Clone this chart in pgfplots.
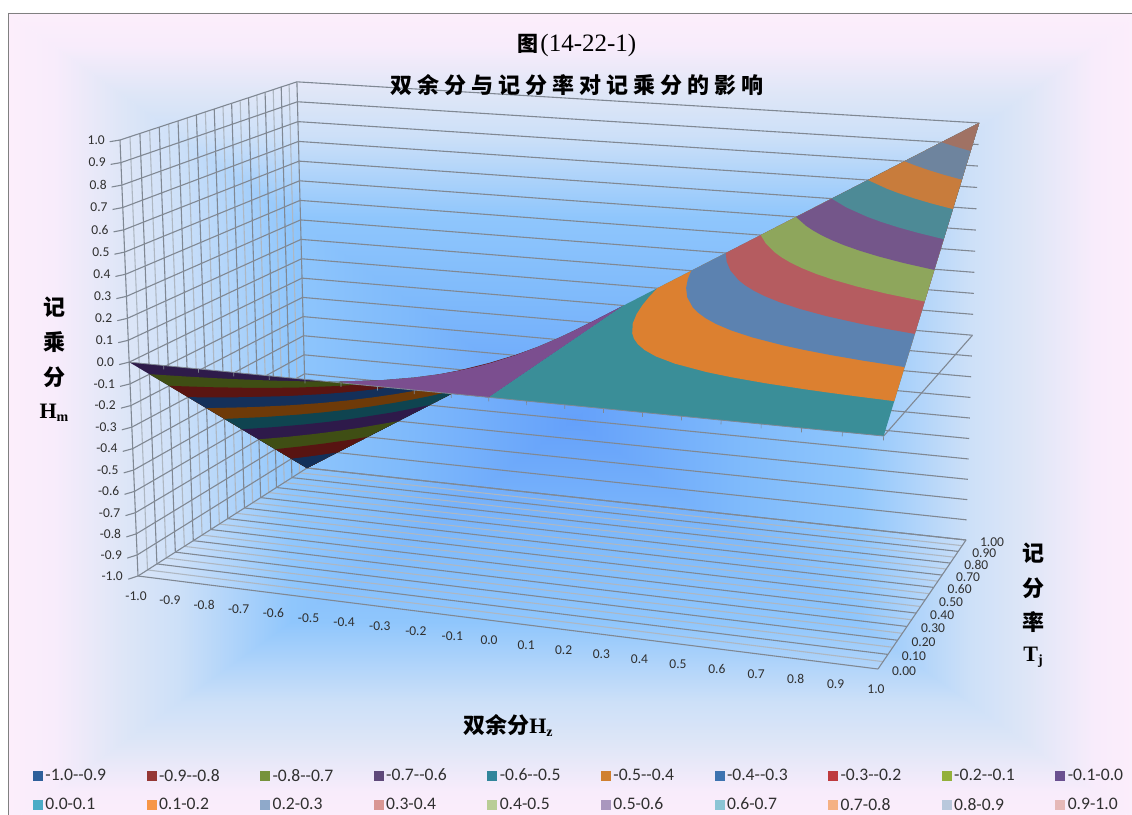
\documentclass[border=0pt]{standalone}
\usepackage{pgfplots}
\pgfplotsset{compat=1.18}
\usepackage{pgfplotstable}
\usepackage{fontspec}
\setmainfont{Liberation Serif}
\newfontfamily\cjk{Noto Sans CJK SC}
\newfontfamily\cjksp[LetterSpace=23]{Noto Sans CJK SC}
\newfontfamily\lab{Carlito}

% background ramp, edge to centre
\definecolor{bgA}{HTML}{FCEEFB}
\definecolor{bgB}{HTML}{F8ECFB}
\definecolor{bgC}{HTML}{DEE6F7}
\definecolor{bgD}{HTML}{CDE0F8}
\definecolor{bgE}{HTML}{8FC6FC}
\definecolor{bgF}{HTML}{7FBAFB}
\definecolor{bgG}{HTML}{64A0FA}
\pgfdeclareverticalshading{bgUp}{100bp}{color(0bp)=(bgG); color(25bp)=(bgG); color(40bp)=(bgF); color(50bp)=(bgE); color(60bp)=(bgD); color(65bp)=(bgC); color(71bp)=(bgB); color(75bp)=(bgA); color(100bp)=(bgA)}
\pgfdeclareverticalshading{bgDown}{100bp}{color(0bp)=(bgA); color(25bp)=(bgA); color(29bp)=(bgB); color(35bp)=(bgC); color(40bp)=(bgD); color(50bp)=(bgE); color(60bp)=(bgF); color(75bp)=(bgG); color(100bp)=(bgG)}
\pgfdeclarehorizontalshading{bgLeft}{100bp}{color(0bp)=(bgA); color(25bp)=(bgA); color(29bp)=(bgB); color(35bp)=(bgC); color(40bp)=(bgD); color(50bp)=(bgE); color(60bp)=(bgF); color(75bp)=(bgG); color(100bp)=(bgG)}
\pgfdeclarehorizontalshading{bgRight}{100bp}{color(0bp)=(bgG); color(25bp)=(bgG); color(40bp)=(bgF); color(50bp)=(bgE); color(60bp)=(bgD); color(65bp)=(bgC); color(71bp)=(bgB); color(75bp)=(bgA); color(100bp)=(bgA)}

% upper side of the surface, by band of Hm
\definecolor{t00}{HTML}{3A8E98}
\definecolor{t01}{HTML}{DC8030}
\definecolor{t02}{HTML}{5C82B0}
\definecolor{t03}{HTML}{B55C60}
\definecolor{t04}{HTML}{8EA65C}
\definecolor{t05}{HTML}{74568A}
\definecolor{t06}{HTML}{4D8A96}
\definecolor{t07}{HTML}{C87C3C}
\definecolor{t08}{HTML}{6E849E}
\definecolor{t09}{HTML}{A07264}
\definecolor{tneg}{HTML}{7B4E8F}
% under side of the surface
\definecolor{u1}{HTML}{2E1B4A}
\definecolor{u2}{HTML}{3F4E14}
\definecolor{u3}{HTML}{5A1512}
\definecolor{u4}{HTML}{14305A}
\definecolor{u5}{HTML}{6E3A08}
\definecolor{u6}{HTML}{0F4450}
\definecolor{u7}{HTML}{2E1A4A}
\definecolor{u8}{HTML}{3F4E14}
\definecolor{u9}{HTML}{581412}
\definecolor{u10}{HTML}{12305A}
% key swatches
\definecolor{k1}{HTML}{2F5F9A}\definecolor{k2}{HTML}{953735}\definecolor{k3}{HTML}{76923C}
\definecolor{k4}{HTML}{5F497A}\definecolor{k5}{HTML}{31859B}\definecolor{k6}{HTML}{D0802F}
\definecolor{k7}{HTML}{3D73B0}\definecolor{k8}{HTML}{BE3A3E}\definecolor{k9}{HTML}{93B03A}
\definecolor{k10}{HTML}{6A5090}\definecolor{k11}{HTML}{4BACC6}\definecolor{k12}{HTML}{F79646}
\definecolor{k13}{HTML}{8FA9CA}\definecolor{k14}{HTML}{D99694}\definecolor{k15}{HTML}{B9CD96}
\definecolor{k16}{HTML}{A997BE}\definecolor{k17}{HTML}{8CC5D5}\definecolor{k18}{HTML}{F5B183}
\definecolor{k19}{HTML}{B9C8DC}\definecolor{k20}{HTML}{E6B9B8}
\definecolor{gridD}{HTML}{808893}
\definecolor{gridL}{HTML}{AEB7C2}
\definecolor{tk}{HTML}{303030}

% Hm = Hz * Tj, level lines (Hz, Tj, Hm), closed through the corner of the unit square
\pgfplotstableread{
Hz Tj Hm
1 0.1 0.1
0.9091 0.11 0.1
0.8333 0.12 0.1
0.7692 0.13 0.1
0.6667 0.15 0.1
0.5714 0.175 0.1
0.5 0.2 0.1
0.4 0.25 0.1
0.3333 0.3 0.1
0.2857 0.35 0.1
0.25 0.4 0.1
0.2222 0.45 0.1
0.2 0.5 0.1
0.1667 0.6 0.1
0.1429 0.7 0.1
0.125 0.8 0.1
0.1111 0.9 0.1
0.1 1 0.1
1 1 1
}\lvlA
\pgfplotstableread{
Hz Tj Hm
1 0.2 0.2
0.8889 0.225 0.2
0.8 0.25 0.2
0.7273 0.275 0.2
0.6667 0.3 0.2
0.5714 0.35 0.2
0.5 0.4 0.2
0.4444 0.45 0.2
0.4 0.5 0.2
0.3636 0.55 0.2
0.3333 0.6 0.2
0.2857 0.7 0.2
0.25 0.8 0.2
0.2222 0.9 0.2
0.2 1 0.2
1 1 1
}\lvlB
\pgfplotstableread{
Hz Tj Hm
1 0.3 0.3
0.9231 0.325 0.3
0.8571 0.35 0.3
0.75 0.4 0.3
0.6667 0.45 0.3
0.6 0.5 0.3
0.5455 0.55 0.3
0.5 0.6 0.3
0.4615 0.65 0.3
0.4286 0.7 0.3
0.375 0.8 0.3
0.3333 0.9 0.3
0.3 1 0.3
1 1 1
}\lvlC
\pgfplotstableread{
Hz Tj Hm
1 0.4 0.4
0.8889 0.45 0.4
0.8 0.5 0.4
0.7273 0.55 0.4
0.6667 0.6 0.4
0.6154 0.65 0.4
0.5714 0.7 0.4
0.5333 0.75 0.4
0.5 0.8 0.4
0.4444 0.9 0.4
0.4 1 0.4
1 1 1
}\lvlD
\pgfplotstableread{
Hz Tj Hm
1 0.5 0.5
0.9091 0.55 0.5
0.8333 0.6 0.5
0.7692 0.65 0.5
0.7143 0.7 0.5
0.6667 0.75 0.5
0.625 0.8 0.5
0.5882 0.85 0.5
0.5556 0.9 0.5
0.5 1 0.5
1 1 1
}\lvlE
\pgfplotstableread{
Hz Tj Hm
1 0.6 0.6
0.9231 0.65 0.6
0.8571 0.7 0.6
0.8 0.75 0.6
0.75 0.8 0.6
0.6667 0.9 0.6
0.6 1 0.6
1 1 1
}\lvlF
\pgfplotstableread{
Hz Tj Hm
1 0.7 0.7
0.9333 0.75 0.7
0.875 0.8 0.7
0.8235 0.85 0.7
0.7778 0.9 0.7
0.7 1 0.7
1 1 1
}\lvlG
\pgfplotstableread{
Hz Tj Hm
1 0.8 0.8
0.9412 0.85 0.8
0.8889 0.9 0.8
0.8421 0.95 0.8
0.8 1 0.8
1 1 1
}\lvlH
\pgfplotstableread{
Hz Tj Hm
1 0.9 0.9
0.9783 0.92 0.9
0.9474 0.95 0.9
0.9 1 0.9
1 1 1
}\lvlI
\pgfplotstableread{
Hz Tj Hm
0 0 0
1 0 0
1 1 1
0 1 0
}\lvlPos
\pgfplotstableread{
Hz Tj Hm
-1 0 0
0 0 0
0 1 0
-1 1 -1
}\lvlNeg
% the part of the -0.1..0 band seen from above
\pgfplotstableread{
Hz Tj Hm
-0.39 0 0
0 0 0
0 1 0
-0.1 1 -0.1
-0.1111 0.9 -0.1
-0.125 0.8 -0.1
-0.1429 0.7 -0.1
-0.1667 0.6 -0.1
-0.2 0.5 -0.1
-0.2222 0.45 -0.1
-0.25 0.4 -0.1
-0.2857 0.35 -0.1
-0.3333 0.3 -0.1
-0.4 0.25 -0.1
-0.5 0.2 -0.1
}\lvlTop

\pgfplotstableread{
Hz Tj Hm lab
-1 0 -1 -1.0
-1 0 -0.9 -0.9
-1 0 -0.8 -0.8
-1 0 -0.7 -0.7
-1 0 -0.6 -0.6
-1 0 -0.5 -0.5
-1 0 -0.4 -0.4
-1 0 -0.3 -0.3
-1 0 -0.2 -0.2
-1 0 -0.1 -0.1
-1 0 0 0.0
-1 0 0.1 0.1
-1 0 0.2 0.2
-1 0 0.3 0.3
-1 0 0.4 0.4
-1 0 0.5 0.5
-1 0 0.6 0.6
-1 0 0.7 0.7
-1 0 0.8 0.8
-1 0 0.9 0.9
-1 0 1 1.0
}\zlabels
\pgfplotstableread{
Hz Tj Hm lab
-1 0 -1 -1.0
-0.9 0 -1 -0.9
-0.8 0 -1 -0.8
-0.7 0 -1 -0.7
-0.6 0 -1 -0.6
-0.5 0 -1 -0.5
-0.4 0 -1 -0.4
-0.3 0 -1 -0.3
-0.2 0 -1 -0.2
-0.1 0 -1 -0.1
0 0 -1 0.0
0.1 0 -1 0.1
0.2 0 -1 0.2
0.3 0 -1 0.3
0.4 0 -1 0.4
0.5 0 -1 0.5
0.6 0 -1 0.6
0.7 0 -1 0.7
0.8 0 -1 0.8
0.9 0 -1 0.9
1 0 -1 1.0
}\xlabels
\pgfplotstableread{
Hz Tj Hm lab
1 0 -1 0.00
1 0.1 -1 0.10
1 0.2 -1 0.20
1 0.3 -1 0.30
1 0.4 -1 0.40
1 0.5 -1 0.50
1 0.6 -1 0.60
1 0.7 -1 0.70
1 0.8 -1 0.80
1 0.9 -1 0.90
1 1 -1 1.00
}\tlabels

% perspective of the chart box: (Hz, Tj, Hm) to page position
\pgfplotsset{
  /pgfplots/table/proj/.style={
    x expr={sx(\thisrow{Hz},\thisrow{Tj},\thisrow{Hm})},
    y expr={sy(\thisrow{Hz},\thisrow{Tj},\thisrow{Hm})}},
  /pgfplots/table/projneg/.style={
    x expr={sx(-\thisrow{Hz},\thisrow{Tj},-\thisrow{Hm})},
    y expr={sy(-\thisrow{Hz},\thisrow{Tj},-\thisrow{Hm})}},
}
\newcommand{\seg}[7]{\addplot[forget plot,no markers,#1] table[proj,row sep=\\]{Hz Tj Hm\\#2 #3 #4\\#5 #6 #7\\};}
\newcommand{\band}[3][proj]{\addplot[forget plot,no markers,draw=none,fill=#3] table[#1]{#2};}
\newcommand{\keyitem}[2]{\addlegendimage{legend image code/.code={\fill[#1] (0pt,-4.5pt) rectangle (9pt,4.5pt);}}\addlegendentry{\makebox[104.2pt][l]{\hspace{3pt}#2}}}
\newcommand{\ticklabels}[3]{\addplot[forget plot,only marks,mark=none,point meta=explicit symbolic,nodes near coords,
    every node near coord/.append style={#2,inner sep=0pt,text=tk,font=\lab\fontsize{13.5}{15}\selectfont}] table[proj,meta=lab]{#1};}
\newcommand{\sidefont}{\fontsize{22}{24}\selectfont\bfseries}
\newcommand{\subs}[1]{\raisebox{-3pt}{\fontsize{14}{14}\selectfont #1}}

\begin{document}
\begin{tikzpicture}[x=1pt,y=1pt]
\useasboundingbox (0,0) rectangle (1132,814);
\clip (0,0) rectangle (1132,814);
\fill[white] (0,0) rectangle (1132,814);
\begin{scope}
  \clip (8,801) -- (1140,801) -- (574,393) -- cycle;
  \shade[shading=bgUp] (8,393) rectangle (1140,801);
\end{scope}
\begin{scope}
  \clip (8,-10) -- (1140,-10) -- (574,395) -- cycle;
  \shade[shading=bgDown] (8,-10) rectangle (1140,395);
\end{scope}
\begin{scope}
  \clip (8,801) -- (8,-10) -- (575,394) -- cycle;
  \shade[shading=bgLeft] (8,-10) rectangle (575,801);
\end{scope}
\begin{scope}
  \clip (1140,801) -- (1140,-10) -- (573,394) -- cycle;
  \shade[shading=bgRight] (573,-10) rectangle (1140,801);
\end{scope}
\draw[color=gray,line width=0.9pt] (8,-12) -- (8,801) -- (1140,801);

\begin{axis}[at={(0,0)},anchor=south west,scale only axis,width=1132pt,height=814pt,
  xmin=0,xmax=1132,ymin=0,ymax=814,y dir=reverse,hide axis,clip=false,
  declare function={
    sd(\ha,\tb,\mc)=1-0.08765*(\ha+1)/2+0.13462*\tb-0.037*(\mc+1)/2;
    sx(\ha,\tb,\mc)=(138+663.04*(\ha+1)/2+210.33*\tb-22.44*(\mc+1)/2)/sd(\ha,\tb,\mc);
    sy(\ha,\tb,\mc)=(576+34.36*(\ha+1)/2-45*\tb-441.18*(\mc+1)/2)/sd(\ha,\tb,\mc);
  },
  legend columns=10,
  legend cell align=left,
  legend style={at={(axis cs:33,769)},anchor=north west,draw=none,fill=none,inner sep=0pt,outer sep=0pt,
    nodes={inner sep=0pt},row sep=15.5pt,font=\lab\fontsize{17.6}{18}\selectfont,text=tk},
]
% left wall
\pgfplotsinvokeforeach{0.05,0.15,0.25,0.35,0.45,0.55,0.65,0.75,0.85,0.95}{
  \seg{gridL,line width=1.1pt}{-1}{#1}{-1}{-1}{#1}{1}
  \seg{gridL,line width=1.1pt}{-1}{#1}{-1}{1}{#1}{-1}
}
\pgfplotsinvokeforeach{0,0.1,0.2,0.3,0.4,0.5,0.6,0.7,0.8,0.9,1}{
  \seg{gridD,line width=1.1pt}{-1}{#1}{-1}{-1}{#1}{1}
  \seg{gridD,line width=1.1pt}{-1}{#1}{-1}{1}{#1}{-1}
}
\pgfplotsinvokeforeach{-1,-0.9,-0.8,-0.7,-0.6,-0.5,-0.4,-0.3,-0.2,-0.1,0,0.1,0.2,0.3,0.4,0.5,0.6,0.7,0.8,0.9,1}{
  \seg{gridD,line width=1.1pt}{-1.012}{-0.03}{#1}{-1}{0}{#1}
  \seg{gridD,line width=1.1pt}{-1}{0}{#1}{-1}{1}{#1}
  \seg{gridD,line width=1.1pt}{-1}{1}{#1}{1}{1}{#1}
}
\seg{gridD,line width=1.1pt}{1}{0}{-1}{1}{1}{-1}
\seg{gridD,line width=1.1pt}{1}{0}{0}{1}{1}{0}

% under side, most negative band last
\band{\lvlNeg}{u1}
\band[projneg]{\lvlA}{u2}
\band[projneg]{\lvlB}{u3}
\band[projneg]{\lvlC}{u4}
\band[projneg]{\lvlD}{u5}
\band[projneg]{\lvlE}{u6}
\band[projneg]{\lvlF}{u7}
\band[projneg]{\lvlG}{u8}
\band[projneg]{\lvlH}{u9}
\band[projneg]{\lvlI}{u10}
% upper side
\band{\lvlTop}{tneg}
\band{\lvlPos}{t00}
\band{\lvlA}{t01}
\band{\lvlB}{t02}
\band{\lvlC}{t03}
\band{\lvlD}{t04}
\band{\lvlE}{t05}
\band{\lvlF}{t06}
\band{\lvlG}{t07}
\band{\lvlH}{t08}
\band{\lvlI}{t09}
% Hz axis line at Hm = 0
\seg{gridD,line width=0.8pt}{-1}{0}{0}{1}{0}{0}
\pgfplotsinvokeforeach{-0.9,-0.8,-0.7,-0.6,-0.5,-0.4,-0.3,-0.2,-0.1,0,0.1,0.2,0.3,0.4,0.5,0.6,0.7,0.8,0.9,1}{
  \seg{gridD,line width=0.7pt}{#1}{0}{0}{#1}{0}{-0.018}
}

\ticklabels{\zlabels}{anchor=east,xshift=-15pt}{}
\ticklabels{\xlabels}{anchor=center,xshift=-2pt,yshift=-20pt}{}
\ticklabels{\tlabels}{anchor=center,xshift=26pt,yshift=-2pt}{}

\node[text=black] at (axis cs:577,45) {{\cjk\fontsize{21}{24}\selectfont\bfseries 图}\,{\fontsize{25}{26}\selectfont (14-22-1)}};
\node[font=\fontsize{22}{24}\selectfont\bfseries,text=black] at (axis cs:577,85) {\cjksp 双余分与记分率对记乘分的影响};
\node[font=\sidefont,text=black] at (axis cs:54,307) {\cjk 记};
\node[font=\sidefont,text=black] at (axis cs:54,342) {\cjk 乘};
\node[font=\sidefont,text=black] at (axis cs:54,377) {\cjk 分};
\node[font=\sidefont,text=black] at (axis cs:54,413) {H\subs{m}};
\node[font=\sidefont,text=black] at (axis cs:1033,553) {\cjk 记};
\node[font=\sidefont,text=black] at (axis cs:1033,588) {\cjk 分};
\node[font=\sidefont,text=black] at (axis cs:1033,622) {\cjk 率};
\node[font=\sidefont,text=black] at (axis cs:1033,657) {T\subs{j}};
\node[font=\sidefont,text=black] at (axis cs:508,725) {{\cjk 双余分}H\subs{z}};

% key
\keyitem{k1}{-1.0-{}-0.9}
\keyitem{k2}{-0.9-{}-0.8}
\keyitem{k3}{-0.8-{}-0.7}
\keyitem{k4}{-0.7-{}-0.6}
\keyitem{k5}{-0.6-{}-0.5}
\keyitem{k6}{-0.5-{}-0.4}
\keyitem{k7}{-0.4-{}-0.3}
\keyitem{k8}{-0.3-{}-0.2}
\keyitem{k9}{-0.2-{}-0.1}
\keyitem{k10}{-0.1-0.0}
\keyitem{k11}{0.0-0.1}
\keyitem{k12}{0.1-0.2}
\keyitem{k13}{0.2-0.3}
\keyitem{k14}{0.3-0.4}
\keyitem{k15}{0.4-0.5}
\keyitem{k16}{0.5-0.6}
\keyitem{k17}{0.6-0.7}
\keyitem{k18}{0.7-0.8}
\keyitem{k19}{0.8-0.9}
\keyitem{k20}{0.9-1.0}
\end{axis}
\end{tikzpicture}
\end{document}
